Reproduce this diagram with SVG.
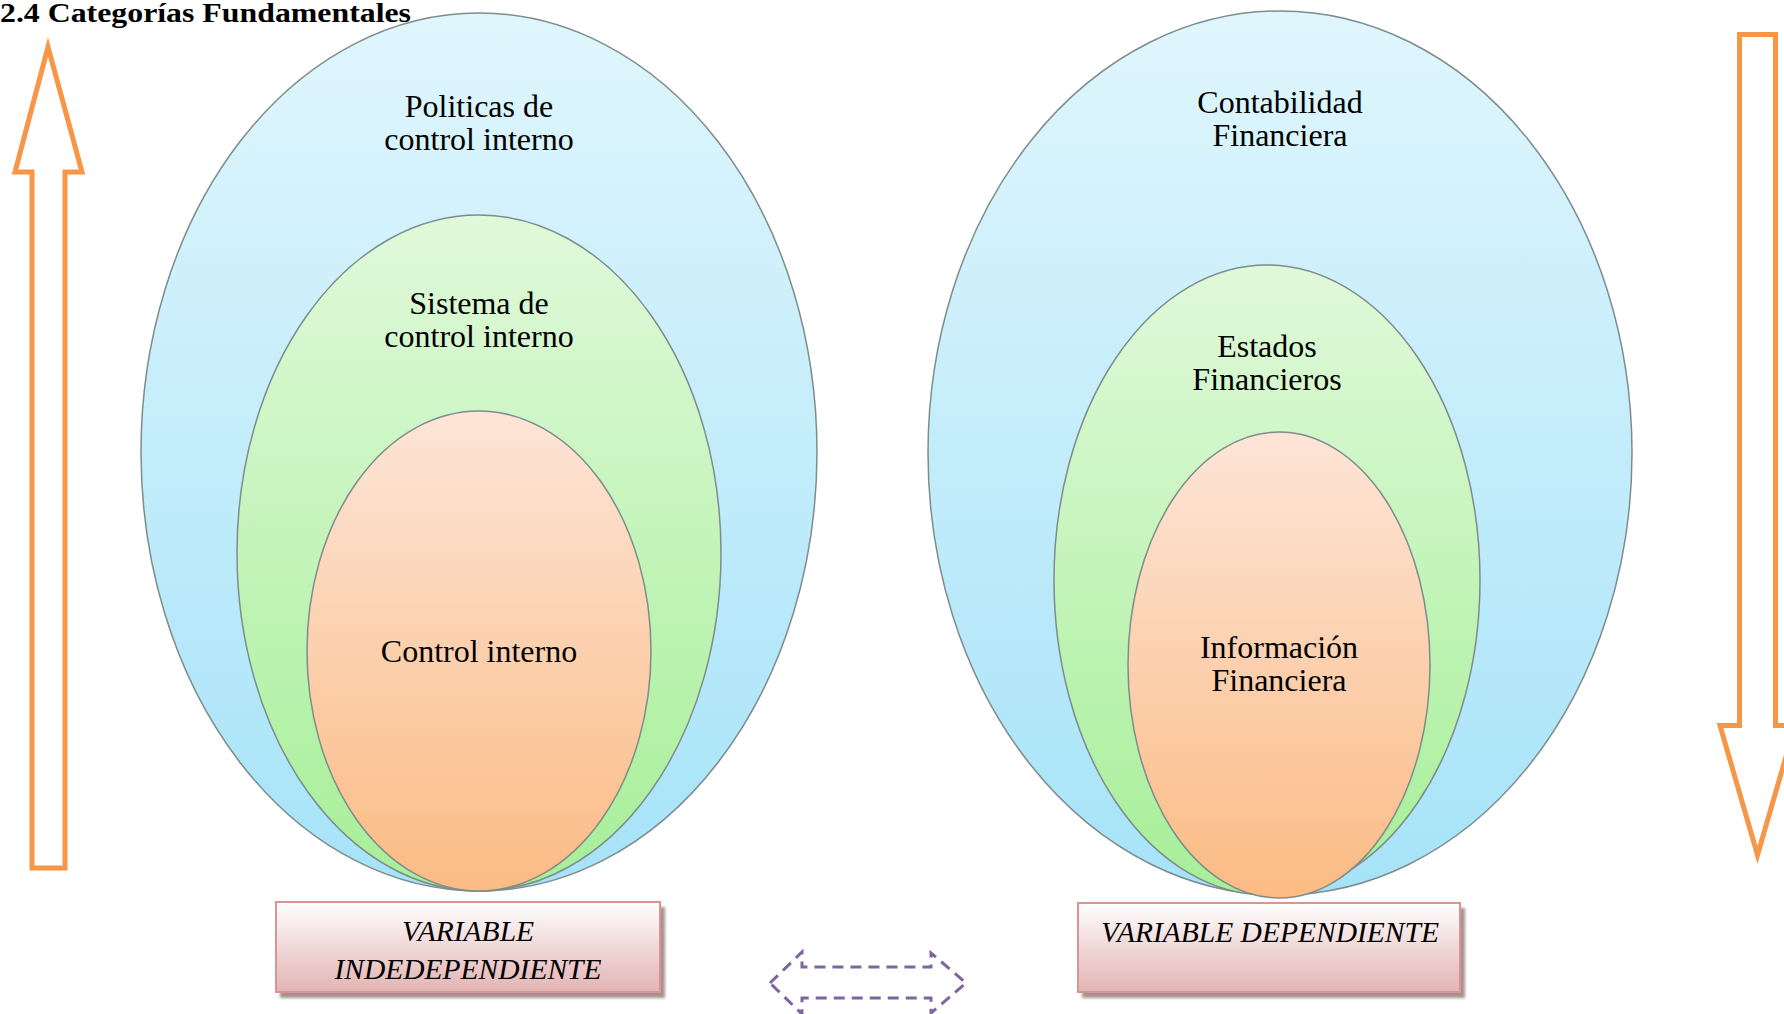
<svg xmlns="http://www.w3.org/2000/svg" width="1784" height="1014" viewBox="0 0 1784 1014">
  <defs>
    <linearGradient id="gBlue" x1="0" y1="0" x2="0" y2="1">
      <stop offset="0" stop-color="#e0f6fd"/>
      <stop offset="1" stop-color="#a6e3f8"/>
    </linearGradient>
    <linearGradient id="gGreen" x1="0" y1="0" x2="0" y2="1">
      <stop offset="0" stop-color="#e0f9da"/>
      <stop offset="1" stop-color="#a6ef98"/>
    </linearGradient>
    <linearGradient id="gPeach" x1="0" y1="0" x2="0" y2="1">
      <stop offset="0" stop-color="#fde5d7"/>
      <stop offset="1" stop-color="#fbbb84"/>
    </linearGradient>
    <linearGradient id="gBox" x1="0" y1="0" x2="0" y2="1">
      <stop offset="0" stop-color="#ffffff"/>
      <stop offset="0.55" stop-color="#efd4d4"/>
      <stop offset="1" stop-color="#e3b5b4"/>
    </linearGradient>
    <filter id="soft" x="-5%" y="-5%" width="110%" height="110%">
      <feGaussianBlur stdDeviation="1.5"/>
    </filter>
  </defs>
  <style>
    .ring { stroke: #7f8c8c; stroke-width: 1.5; }
    .lbl { font-family: "Liberation Serif", "Times New Roman", serif; font-size: 32px; fill: #000; text-anchor: middle; }
    .var { font-family: "Liberation Serif", "Times New Roman", serif; font-size: 29.5px; font-style: italic; fill: #000; text-anchor: middle; }
    .title { font-family: "Liberation Serif", "Times New Roman", serif; font-size: 28px; font-weight: bold; fill: #000; }
    .flow { fill: none; stroke: #f79646; stroke-width: 5; stroke-linejoin: miter; }
    .box { fill: url(#gBox); stroke: #d99594; stroke-width: 2; }
    .shadow { fill: #a89090; filter: url(#soft); }
    .link { fill: none; stroke: #8064a2; stroke-width: 3; stroke-dasharray: 11 7; }
  </style>

  <rect width="1784" height="1014" fill="#ffffff"/>

  <text class="title" x="0" y="22" textLength="411" lengthAdjust="spacingAndGlyphs">2.4 Categorías Fundamentales</text>

  <!-- independent variable: nested categories -->
  <g id="politicas">
    <ellipse class="ring" cx="479" cy="452" rx="338" ry="439" fill="url(#gBlue)"/>
    <text class="lbl" x="479" y="117">Politicas de</text>
    <text class="lbl" x="479" y="150">control interno</text>
  </g>
  <g id="sistema">
    <ellipse class="ring" cx="479" cy="553" rx="242" ry="338" fill="url(#gGreen)"/>
    <text class="lbl" x="479" y="314">Sistema de</text>
    <text class="lbl" x="479" y="347">control interno</text>
  </g>
  <g id="control">
    <ellipse class="ring" cx="479" cy="651" rx="172" ry="240" fill="url(#gPeach)"/>
    <text class="lbl" x="479" y="662">Control interno</text>
  </g>

  <!-- dependent variable: nested categories -->
  <g id="contabilidad">
    <ellipse class="ring" cx="1280" cy="453" rx="352" ry="442" fill="url(#gBlue)"/>
    <text class="lbl" x="1280" y="113">Contabilidad</text>
    <text class="lbl" x="1280" y="146">Financiera</text>
  </g>
  <g id="estados">
    <ellipse class="ring" cx="1267" cy="580" rx="213" ry="315" fill="url(#gGreen)"/>
    <text class="lbl" x="1267" y="357">Estados</text>
    <text class="lbl" x="1267" y="390">Financieros</text>
  </g>
  <g id="informacion">
    <ellipse class="ring" cx="1279" cy="665" rx="151" ry="233" fill="url(#gPeach)"/>
    <text class="lbl" x="1279" y="658">Información</text>
    <text class="lbl" x="1279" y="691">Financiera</text>
  </g>

  <!-- variable labels -->
  <g id="var-independiente">
    <rect class="shadow" x="280" y="907" width="385" height="91"/>
    <rect class="box" x="276" y="902" width="384" height="90"/>
    <text class="var" x="468" y="941">VARIABLE</text>
    <text class="var" x="468" y="979">INDEDEPENDIENTE</text>
  </g>
  <g id="var-dependiente">
    <rect class="shadow" x="1082" y="908" width="383" height="90"/>
    <rect class="box" x="1078" y="903" width="382" height="89"/>
    <text class="var" x="1270" y="942">VARIABLE DEPENDIENTE</text>
  </g>

  <!-- connectors -->
  <g id="connectors">
    <polygon class="flow" points="48,47 15,172 32,172 32,868 65,868 65,172 82,172"/>
    <polygon class="flow" points="1739.5,34.5 1775.5,34.5 1775.5,725.5 1795,725.5 1757.5,855 1720,725.5 1739.5,725.5"/>
    <polygon class="link" points="770,983 802,952 802,967 931,967 931,953 966,983 931,1013 931,998 802,998 802,1014"/>
  </g>
</svg>
